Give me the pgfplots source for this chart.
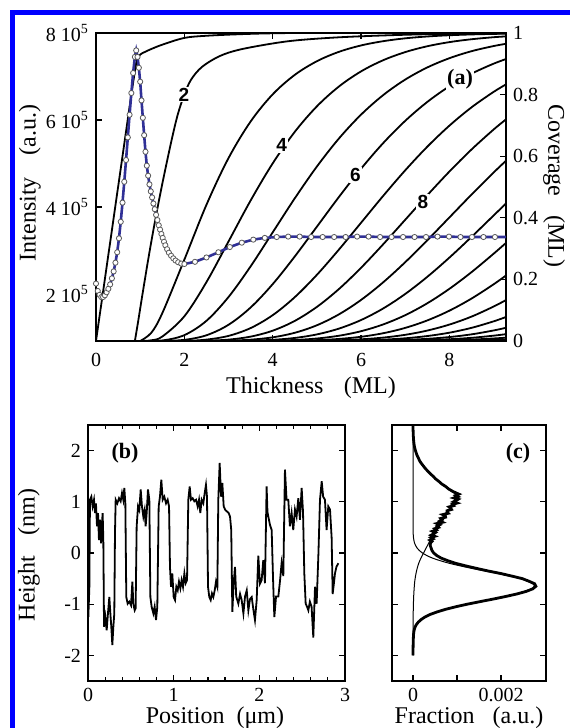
\documentclass[border=0pt]{standalone}
\usepackage{fontspec}
\setmainfont{Liberation Serif}
\newfontfamily\lblfont{Liberation Sans}
\usepackage{pgfplots}
\pgfplotsset{compat=1.18}

\definecolor{frameblue}{RGB}{0,0,255}
\definecolor{fitblue}{RGB}{48,48,150}

\newcommand{\tickfont}{\fontsize{10}{12}\selectfont}
\newcommand{\labfont}{\fontsize{12}{14}\selectfont}

\pgfplotsset{
  panel/.style={
    scale only axis, anchor=south west,
    axis line style={line width=0.7pt},
    tick style={black, line width=0.6pt},
    major tick length=3pt, minor tick length=1.8pt,
    tick label style={font=\tickfont},
    /pgf/number format/assume math mode=true,
  },
  cov/.style={black, line width=0.9pt, smooth, tension=0.55},
}

\begin{document}
\begin{tikzpicture}
\useasboundingbox (0,0) rectangle (285pt,364pt);
\fill[frameblue] (5pt,356.5pt) rectangle (285pt,359pt);
\fill[frameblue] (5pt,0pt) rectangle (7.5pt,359pt);

% ---------- (a) coverage curves, right axis
\begin{axis}[panel, at={(48pt,193.5pt)}, width=205pt, height=154pt,
  xmin=0, xmax=9.28, ymin=0, ymax=1,
  xtick={0,2,4,6,8}, ytick={0,0.2,0.4,0.6,0.8,1},
  ytick pos=right, yticklabel pos=right,
  xticklabel style={yshift=-2.5pt}]
\addplot[cov] coordinates {(0,0)(0.2,0.2)(0.4,0.4)(0.6,0.6)(0.8,0.8)(0.88,0.875)(0.93,0.915)(1.0,0.93)(1.1,0.938)(1.22,0.946)(1.5,0.962)(2,0.984)(2.5,0.991)(3.25,0.996)(4,0.999)(5,1)(9.3,1)};
\addplot[cov] coordinates {(0.88,0)(0.95,0.06)(1.05,0.15)(1.2,0.28)(1.35,0.4)(1.5,0.51)(1.7,0.645)(1.85,0.735)(2,0.8)(2.15,0.848)(2.4,0.89)(2.8,0.925)(3.25,0.946)(4,0.966)(4.6,0.977)(5.5,0.986)(6.5,0.992)(7.5,0.996)(8.5,0.998)(9.3,0.999)};
\addplot[cov] coordinates {(1,0)(1.25,0.0265)(1.5,0.0902)(2,0.2642)(2.5,0.4422)(3,0.5940)(3.5,0.7127)(4,0.8009)(4.5,0.8641)(5,0.9084)(5.5,0.9389)(6,0.9596)(6.5,0.9734)(7,0.9827)(7.5,0.9887)(8,0.9927)(8.5,0.9953)(9,0.9970)(9.3,0.9977)};
\addplot[cov] coordinates {(1,0)(1.25,0.0022)(1.5,0.0144)(2,0.0803)(2.5,0.1912)(3,0.3233)(3.5,0.4562)(4,0.5768)(4.5,0.6792)(5,0.7619)(5.5,0.8264)(6,0.8754)(6.5,0.9116)(7,0.9380)(7.5,0.9570)(8,0.9704)(8.5,0.9797)(9,0.9863)(9.3,0.9891)};
\addplot[cov] coordinates {(1,0)(1.5,0.0018)(2,0.0190)(2.5,0.0656)(3,0.1429)(3.5,0.2424)(4,0.3528)(4.5,0.4634)(5,0.5665)(5.5,0.6577)(6,0.7350)(6.5,0.7983)(7,0.8488)(7.5,0.8882)(8,0.9182)(8.5,0.9409)(9,0.9576)(9.3,0.9654)};
\addplot[cov] coordinates {(1,0)(1.5,0.0002)(2,0.0037)(2.5,0.0186)(3,0.0527)(3.5,0.1088)(4,0.1847)(4.5,0.2746)(5,0.3712)(5.5,0.4679)(6,0.5595)(6.5,0.6425)(7,0.7149)(7.5,0.7763)(8,0.8270)(8.5,0.8679)(9,0.9004)(9.3,0.9163)};
\addplot[cov] coordinates {(1,0)(2,0.0006)(2.5,0.0045)(3,0.0166)(3.5,0.0420)(4,0.0839)(4.5,0.1424)(5,0.2149)(5.5,0.2971)(6,0.3840)(6.5,0.4711)(7,0.5543)(7.5,0.6310)(8,0.6993)(8.5,0.7586)(9,0.8088)(9.3,0.8347)};
\addplot[cov] coordinates {(1,0)(2,0.0001)(2.5,0.0009)(3,0.0045)(3.5,0.0142)(4,0.0335)(4.5,0.0653)(5,0.1107)(5.5,0.1689)(6,0.2378)(6.5,0.3140)(7,0.3937)(7.5,0.4735)(8,0.5503)(8.5,0.6218)(9,0.6866)(9.3,0.7218)};
\addplot[cov] coordinates {(1,0)(2.5,0.0002)(3,0.0011)(3.5,0.0043)(4,0.0119)(4.5,0.0267)(5,0.0511)(5.5,0.0866)(6,0.1334)(6.5,0.1905)(7,0.2560)(7.5,0.3273)(8,0.4013)(8.5,0.4754)(9,0.5470)(9.3,0.5879)};
\addplot[cov] coordinates {(1,0)(3,0.0002)(3.5,0.0011)(4,0.0038)(4.5,0.0099)(5,0.0214)(5.5,0.0403)(6,0.0681)(6.5,0.1056)(7,0.1528)(7.5,0.2085)(8,0.2709)(8.5,0.3380)(9,0.4075)(9.3,0.4491)};
\addplot[cov] coordinates {(1,0)(3.5,0.0002)(4,0.0011)(4.5,0.0033)(5,0.0081)(5.5,0.0171)(6,0.0318)(6.5,0.0538)(7,0.0839)(7.5,0.1226)(8,0.1695)(8.5,0.2236)(9,0.2834)(9.3,0.3210)};
\addplot[cov] coordinates {(1,0)(4,0.0003)(4.5,0.0010)(5,0.0028)(5.5,0.0067)(6,0.0137)(6.5,0.0252)(7,0.0426)(7.5,0.0669)(8,0.0985)(8.5,0.1378)(9,0.1841)(9.3,0.2147)};
\addplot[cov] coordinates {(1,0)(4.5,0.0003)(5,0.0009)(5.5,0.0024)(6,0.0055)(6.5,0.0110)(7,0.0201)(7.5,0.0339)(8,0.0534)(8.5,0.0792)(9,0.1119)(9.3,0.1345)};
\addplot[cov] coordinates {(1,0)(5,0.0003)(5.5,0.0008)(6,0.0020)(6.5,0.0044)(7,0.0088)(7.5,0.0161)(8,0.0270)(8.5,0.0427)(9,0.0638)(9.3,0.0790)};
\addplot[cov] coordinates {(1,0)(5.5,0.0002)(6,0.0007)(6.5,0.0017)(7,0.0036)(7.5,0.0071)(8,0.0128)(8.5,0.0216)(9,0.0342)(9.3,0.0436)};
\addplot[cov] coordinates {(1,0)(6,0.0002)(6.5,0.0006)(7,0.0014)(7.5,0.0030)(8,0.0057)(8.5,0.0103)(9,0.0173)(9.3,0.0226)};
\addplot[cov] coordinates {(1,0)(6.5,0.0002)(7,0.0005)(7.5,0.0012)(8,0.0024)(8.5,0.0046)(9,0.0082)(9.3,0.0110)};
\addplot[cov] coordinates {(1,0)(7,0.0002)(7.5,0.0005)(8,0.0010)(8.5,0.0020)(9,0.0037)(9.3,0.0049)};
\addplot[cov] coordinates {(1,0)(8,0.0004)(8.5,0.0008)(9,0.0016)(9.3,0.0020)};
\node[fill=white, inner sep=0.6pt, font=\lblfont\bfseries\fontsize{9.5}{11}\selectfont] at (axis cs:1.99,0.80) {2};
\node[fill=white, inner sep=0.6pt, font=\lblfont\bfseries\fontsize{9.5}{11}\selectfont] at (axis cs:4.2,0.635) {4};
\node[fill=white, inner sep=0.6pt, font=\lblfont\bfseries\fontsize{9.5}{11}\selectfont] at (axis cs:5.87,0.54) {6};
\node[fill=white, inner sep=0.6pt, font=\lblfont\bfseries\fontsize{9.5}{11}\selectfont] at (axis cs:7.4,0.45) {8};
\node[fill=white, inner sep=0.8pt, font=\bfseries\fontsize{11}{13}\selectfont] at (axis cs:8.24,0.85) {(a)};
\end{axis}

% ---------- (a) intensity, left axis
\begin{axis}[panel, at={(48pt,193.5pt)}, width=205pt, height=154pt,
  xmin=0, xmax=9.28, ymin=0.92, ymax=8,
  xtick=\empty, ytick={2,4,6,8}, ytick pos=left,
  yticklabels={2 10\textsuperscript{5},4 10\textsuperscript{5},6 10\textsuperscript{5},8 10\textsuperscript{5}}]
\addplot[fitblue, line width=1.3pt] coordinates {(0.08,1.98)(0.12,1.93)(0.16,1.93)(0.20,1.97)(0.24,2.04)(0.28,2.12)(0.32,2.22)(0.36,2.36)(0.40,2.52)(0.44,2.72)(0.48,2.96)(0.52,3.28)(0.56,3.66)(0.60,4.10)(0.64,4.58)(0.68,5.08)(0.72,5.60)(0.76,6.12)(0.80,6.62)(0.84,7.08)(0.88,7.45)(0.91,7.60)(0.94,7.45)(0.97,7.20)(1.00,6.88)(1.03,6.45)(1.06,6.05)(1.09,5.65)(1.12,5.27)(1.15,4.95)(1.18,4.72)(1.21,4.52)(1.24,4.36)(1.27,4.22)(1.30,4.08)(1.33,3.95)(1.36,3.82)};
\addplot[fitblue, line width=1.3pt] coordinates {(2.00,2.69)(2.24,2.74)(2.50,2.84)(2.77,2.96)(3.03,3.08)(3.30,3.18)(3.56,3.25)(3.82,3.29)(4.09,3.31)(4.35,3.32)(4.61,3.32)(4.87,3.31)(5.13,3.31)(5.39,3.31)(5.65,3.31)(5.91,3.32)(6.17,3.32)(6.43,3.31)(6.69,3.31)(6.95,3.31)(7.21,3.31)(7.47,3.31)(7.73,3.32)(7.99,3.32)(8.25,3.31)(8.51,3.31)(8.77,3.31)(9.03,3.31)(9.29,3.31)};
\addplot[only marks, mark=*, mark size=1.3pt, mark options={fill=white, draw=black!65, line width=0.4pt}] coordinates {
(0.00,2.24)(0.04,2.07)(0.08,1.98)(0.12,1.93)(0.16,1.93)(0.20,1.97)(0.24,2.04)(0.28,2.12)(0.32,2.22)(0.36,2.36)(0.40,2.52)(0.44,2.72)(0.48,2.96)(0.52,3.28)(0.56,3.66)(0.60,4.10)(0.64,4.58)(0.68,5.08)(0.72,5.60)(0.76,6.12)(0.80,6.62)(0.84,7.08)(0.88,7.45)(0.91,7.60)(0.94,7.45)(0.97,7.20)(1.00,6.88)(1.03,6.45)(1.06,6.05)(1.09,5.65)(1.12,5.27)(1.15,4.95)(1.18,4.72)(1.21,4.52)(1.24,4.36)(1.27,4.22)(1.30,4.08)(1.33,3.95)(1.36,3.82)(1.39,3.70)(1.42,3.58)(1.45,3.48)(1.48,3.38)(1.51,3.29)(1.54,3.20)(1.57,3.12)(1.61,3.03)(1.65,2.95)(1.70,2.88)(1.75,2.82)(1.80,2.77)(1.86,2.73)(1.93,2.70)(2.00,2.69)
(2.24,2.74)(2.50,2.84)(2.77,2.96)(3.03,3.08)(3.30,3.18)(3.56,3.25)(3.82,3.29)(4.09,3.31)(4.35,3.32)(4.61,3.32)(4.87,3.31)(5.13,3.31)(5.39,3.31)(5.65,3.31)(5.91,3.32)(6.17,3.32)(6.43,3.31)(6.69,3.31)(6.95,3.31)(7.21,3.31)(7.47,3.31)(7.73,3.32)(7.99,3.32)(8.25,3.31)(8.51,3.31)(8.77,3.31)(9.03,3.31)(9.29,3.31)};
\end{axis}

% ---------- (b) height profile
\begin{axis}[panel, at={(44pt,23.5pt)}, width=128.5pt, height=128pt,
  xmin=0, xmax=3, ymin=-2.5, ymax=2.5,
  xtick={0,1,2,3}, minor x tick num=4, ytick={-2,-1,0,1,2}]
\addplot[black, line width=0.9pt] coordinates {
(0.004,-1.25)(0.016,-0.66)(0.023,1.04)(0.039,1.10)(0.054,0.91)(0.070,1.04)(0.082,0.78)(0.093,0.97)(0.105,0.52)(0.117,0.78)(0.128,0.25)(0.140,0.65)(0.152,0.19)(0.163,0.58)(0.171,0.78)(0.179,0.25)(0.187,-1.44)(0.202,-1.25)(0.218,-1.51)(0.233,-1.18)(0.249,-0.86)(0.261,-1.18)(0.272,-1.44)(0.284,-1.80)(0.296,-1.44)(0.307,-1.18)(0.315,0.39)(0.323,1.04)(0.342,0.97)(0.362,1.07)(0.381,1.01)(0.397,1.17)(0.412,1.04)(0.424,1.27)(0.436,0.97)(0.447,-0.86)(0.463,-0.99)(0.482,-0.95)(0.502,-1.02)(0.518,-0.56)(0.529,-0.99)(0.545,-1.12)(0.556,-1.08)(0.568,0.52)(0.584,0.91)(0.599,0.84)(0.615,1.24)(0.630,0.91)(0.646,0.71)(0.661,0.84)(0.673,0.52)(0.685,0.78)(0.700,1.24)(0.716,1.04)(0.728,-0.86)(0.743,-1.05)(0.763,-1.18)(0.778,-1.05)(0.794,-1.31)(0.809,-1.05)(0.825,0.91)(0.840,1.10)(0.856,1.43)(0.872,1.04)(0.891,1.10)(0.911,0.97)(0.930,1.04)(0.946,0.91)(0.957,-0.27)(0.969,-0.66)(0.984,-0.40)(1.000,-0.86)(1.016,-0.92)(1.031,-0.66)(1.047,-0.73)(1.062,-0.56)(1.078,-0.69)(1.093,-0.53)(1.109,-0.66)(1.125,-0.40)(1.140,-0.59)(1.156,-0.53)(1.171,1.04)(1.187,1.30)(1.202,1.04)(1.222,1.07)(1.241,1.01)(1.261,1.04)(1.280,0.91)(1.296,1.04)(1.311,0.78)(1.327,1.04)(1.346,0.97)(1.362,1.17)(1.377,1.33)(1.389,1.10)(1.401,-0.66)(1.416,-0.86)(1.432,-0.92)(1.447,-0.79)(1.463,-0.86)(1.479,-0.73)(1.494,-0.56)(1.510,-0.66)(1.521,1.04)(1.537,1.76)(1.553,1.10)(1.568,1.37)(1.584,0.91)(1.603,0.84)(1.623,0.81)(1.642,0.78)(1.658,0.71)(1.672,0.45)(1.685,-1.15)(1.700,-0.60)(1.716,-0.27)(1.730,-0.85)(1.755,-0.99)(1.775,-0.80)(1.794,-0.92)(1.814,-1.18)(1.833,-0.85)(1.853,-0.73)(1.872,-1.12)(1.891,-0.90)(1.911,-0.86)(1.930,-1.10)(1.949,-1.31)(1.969,-0.92)(1.988,-0.05)(2.007,-0.60)(2.027,-0.53)(2.046,-0.14)(2.066,-0.59)(2.085,1.30)(2.095,0.80)(2.105,0.71)(2.124,0.55)(2.144,0.45)(2.160,-0.50)(2.175,-1.25)(2.195,-0.85)(2.222,-0.85)(2.241,-0.55)(2.260,-0.20)(2.280,-0.45)(2.299,1.63)(2.318,1.04)(2.338,1.04)(2.357,0.52)(2.377,0.78)(2.396,0.45)(2.416,0.85)(2.435,0.71)(2.455,1.07)(2.474,0.65)(2.494,1.27)(2.510,0.80)(2.525,-0.40)(2.541,-0.99)(2.557,-1.05)(2.572,-1.12)(2.590,-0.95)(2.610,-1.05)(2.630,-1.65)(2.650,-0.66)(2.669,-0.99)(2.690,0.0)(2.708,1.04)(2.728,1.40)(2.745,1.10)(2.766,1.04)(2.785,0.45)(2.805,0.91)(2.825,0.85)(2.844,0.30)(2.856,-0.80)(2.870,-0.60)(2.883,-0.40)(2.900,-0.27)(2.922,-0.20)};
\end{axis}

% ---------- (c) height histogram (fraction in units of 1e-3)
\begin{axis}[panel, at={(196pt,23.5pt)}, width=77pt, height=128pt,
  xmin=-0.477, xmax=3.02, ymin=-2.5, ymax=2.5,
  xtick={0,1,2}, xticklabels={0,,0.002},
  ytick={-2,-1,0,1,2}, yticklabels={,,,,}]
\addplot[black, line width=1.4pt] coordinates {
(0.000,2.50)(0.000,2.45)(0.002,2.40)(0.004,2.35)(0.006,2.30)(0.010,2.25)(0.014,2.20)(0.020,2.15)(0.028,2.10)(0.040,2.05)(0.055,2.00)(0.075,1.95)(0.095,1.90)(0.125,1.85)(0.150,1.80)(0.190,1.75)(0.235,1.70)(0.28,1.65)(0.335,1.60)(0.39,1.55)(0.455,1.50)(0.51,1.45)(0.585,1.40)(0.65,1.35)(0.74,1.30)(0.81,1.25)(0.91,1.20)
(1.04,1.15)(0.97,1.125)(1.02,1.10)(0.93,1.075)(1.025,1.05)(0.975,1.025)(0.92,1.00)(1.00,0.975)(0.895,0.95)(0.923,0.925)(0.82,0.90)(0.858,0.875)(0.875,0.85)(0.773,0.825)(0.77,0.80)(0.798,0.775)(0.675,0.75)(0.733,0.725)(0.74,0.70)(0.63,0.675)(0.66,0.65)(0.61,0.625)(0.67,0.60)(0.543,0.575)(0.605,0.55)(0.548,0.525)(0.58,0.50)(0.495,0.475)(0.53,0.45)(0.445,0.425)(0.51,0.40)(0.468,0.375)(0.415,0.35)(0.493,0.325)(0.41,0.30)(0.453,0.275)(0.385,0.25)(0.428,0.225)(0.40,0.20)(0.39,0.15)(0.41,0.10)(0.43,0.05)
(0.47,0.00)(0.54,-0.05)(0.64,-0.10)(0.79,-0.15)(0.96,-0.20)(1.19,-0.25)(1.44,-0.30)(1.70,-0.35)(1.99,-0.40)(2.24,-0.45)(2.48,-0.50)(2.63,-0.55)(2.76,-0.60)(2.79,-0.65)(2.72,-0.70)(2.57,-0.75)(2.36,-0.80)(2.10,-0.85)(1.82,-0.90)(1.52,-0.95)(1.23,-1.00)(0.97,-1.05)(0.74,-1.10)(0.55,-1.15)(0.39,-1.20)(0.27,-1.25)(0.185,-1.30)(0.12,-1.35)(0.075,-1.40)(0.045,-1.45)(0.028,-1.50)(0.017,-1.55)(0.011,-1.60)(0.006,-1.70)(0.003,-1.80)(0.001,-1.90)(0.000,-2.00)};
\addplot[black, line width=0.5pt, smooth] coordinates {(0,2.5)(0.002,2.4)(0.005,2.3)(0.012,2.2)(0.025,2.1)(0.05,2.0)(0.09,1.9)(0.145,1.8)(0.23,1.7)(0.33,1.6)(0.45,1.5)(0.58,1.4)(0.73,1.3)(0.88,1.2)(0.97,1.15)(1.0,1.1)(0.99,1.05)(0.96,1.0)(0.87,0.9)(0.78,0.8)(0.69,0.7)(0.61,0.6)(0.54,0.5)(0.48,0.4)(0.42,0.3)(0.36,0.2)(0.30,0.1)(0.24,0.0)(0.18,-0.1)(0.13,-0.2)(0.095,-0.3)(0.068,-0.4)(0.048,-0.5)(0.034,-0.6)(0.018,-0.8)(0.009,-1.0)(0.004,-1.2)(0.0015,-1.5)(0,-2.0)};
\addplot[black, line width=0.5pt, smooth] coordinates {(0,-2.0)(0.0006,-1.8)(0.0025,-1.7)(0.0087,-1.6)(0.027,-1.5)(0.074,-1.4)(0.181,-1.3)(0.387,-1.2)(0.733,-1.1)(1.223,-1.0)(1.802,-0.9)(2.343,-0.8)(2.689,-0.7)(2.748,-0.65)(2.723,-0.6)(2.433,-0.5)(1.919,-0.4)(1.335,-0.3)(0.820,-0.2)(0.444,-0.1)(0.213,0.0)(0.090,0.1)(0.033,0.2)(0.011,0.3)(0.003,0.4)(0.001,0.5)(0,0.6)(0,2.5)};
\end{axis}

% ---------- labels
\node[font=\bfseries\fontsize{11}{13}\selectfont] at (62.5pt,137.5pt) {(b)};
\node[font=\bfseries\fontsize{11}{13}\selectfont] at (259pt,137.5pt) {(c)};
\node[font=\labfont, rotate=90] at (15pt,272.5pt) {Intensity\hspace{0.9em}(a.u.)};
\node[font=\labfont, rotate=-90] at (277pt,271pt) {Coverage\hspace{0.8em}(ML)};
\node[font=\labfont, anchor=base] at (155.5pt,167pt) {Thickness\hspace{0.85em}(ML)};
\node[font=\labfont, rotate=90] at (14.5pt,86.5pt) {Height\hspace{0.85em}(nm)};
\node[font=\labfont, anchor=base] at (107.5pt,2pt) {Position\hspace{0.5em}(μm)};
\node[font=\labfont, anchor=base] at (234.5pt,2pt) {Fraction\hspace{0.75em}(a.u.)};
\end{tikzpicture}
\end{document}
